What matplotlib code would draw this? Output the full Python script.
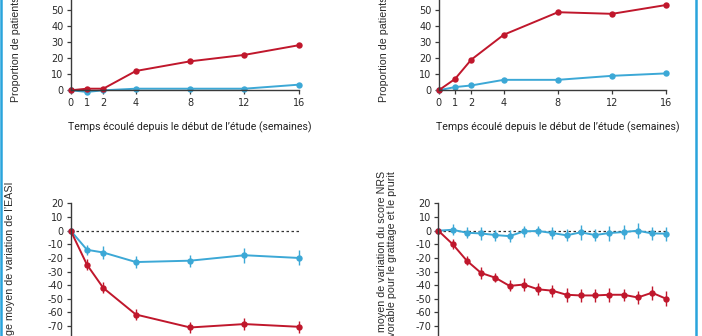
import numpy as np
import matplotlib
matplotlib.use("Agg")
import matplotlib.pyplot as plt
from matplotlib.lines import Line2D

# ---- data -------------------------------------------------------------
weeks_resp = [0, 1, 2, 4, 8, 12, 16]

# proportion of responders (%), left panel
resp_a_drug = [0, 1, 1, 12, 18, 22, 28]
resp_a_placebo = [0, -1, 0, 1, 1, 1, 3.5]

# proportion of responders (%), right panel
resp_b_drug = [0, 7, 19, 34.5, 48.5, 47.5, 53]
resp_b_placebo = [0, 2, 3, 6.5, 6.5, 9, 10.5]

# mean % change in EASI
easi_weeks = [0, 1, 2, 4, 8, 12, 16]
easi_drug = [0, -25, -42, -61.5, -71, -68.5, -70.5]
easi_drug_err = [0, 4, 4, 4, 4, 4.5, 4.5]
easi_placebo = [0, -14, -16, -23, -22, -18, -20]
easi_placebo_err = [0, 3.5, 4.5, 4.5, 4.5, 5.5, 5.5]

# mean % change in NRS itch score (weekly)
nrs_weeks = list(range(17))
nrs_drug = [0, -9.8, -22, -31, -34.5, -40.5, -39.5, -43, -44, -47, -47.5,
            -47.5, -47, -47, -49, -45.5, -50]
nrs_drug_err = [0, 3.5, 3.5, 4.5, 3.5, 4, 4.5, 4.5, 4.5, 5, 5, 5, 5, 4.5,
                5, 5, 5.5]
nrs_placebo = [0, 0.7, -1.5, -2, -3.2, -4, -0.5, -0.2, -1.7, -3.4, -1.2,
               -3.2, -1.7, -1, 0, -2, -2.2]
nrs_placebo_err = [0, 4, 4, 4.5, 4, 4.5, 4, 4, 4.5, 4.5, 5.5, 4.5, 5.5, 5,
                   5.5, 5, 5]

resp_ticks = [0, 1, 2, 4, 8, 12, 16]
resp_yticks = list(range(0, 61, 10))
change_yticks = list(range(20, -101, -10))

x_title = "Temps écoulé depuis le début de l\u2019étude (semaines)"
ylab_a = "Proportion de patients ayant obtenu un IGA 0 ou 1 (%)"
ylab_b = "Proportion de patients ayant obtenu un EASI-75 (%)"
ylab_c = "Pourcentage moyen de variation de l\u2019EASI"
ylab_d = ("Pourcentage moyen de variation du score NRS\n"
          "le plus défavorable pour le grattage et le prurit")

# ---- style ------------------------------------------------------------
RED = "#c0172c"
BLUE = "#3ca8d6"
AXC = "#3a3a3a"
plt.rcParams["axes.unicode_minus"] = False

W, H = 702, 336
fig = plt.figure(figsize=(W / 100, H / 100), dpi=100)
fig.patch.set_facecolor("white")


def fx(px):
    return px / W


def fy(py):
    return 1 - py / H


def add_axes(left, right, top, bottom):
    return fig.add_axes([fx(left), fy(bottom), fx(right) - fx(left),
                         fy(top) - fy(bottom)])


def compress(w):
    w = np.asarray(w, dtype=float)
    return np.where(w <= 4, 1.2 * w, w + 0.8)


def expand(p):
    p = np.asarray(p, dtype=float)
    return np.where(p <= 4.8, p / 1.2, p - 0.8)


def style(ax):
    for s in ("top", "right"):
        ax.spines[s].set_visible(False)
    for s in ("left", "bottom"):
        ax.spines[s].set_color(AXC)
        ax.spines[s].set_linewidth(1.0)
    ax.tick_params(axis="both", colors=AXC, length=3.2, width=0.9,
                   pad=2.0, labelsize=7.0, labelcolor="#2a2a2a")
    for lab in ax.get_xticklabels() + ax.get_yticklabels():
        lab.set_family("DejaVu Sans")


xlab_font = dict(family="Roboto", size=7.6, color="#222222")
ylab_font = dict(family="Liberation Sans", size=7.7, color="#2a2a2a")

line_kw = dict(lw=1.4, marker="o", ms=4.6, mew=0, clip_on=False)
err_kw = dict(lw=1.4, marker="o", ms=4.6, mew=0, capsize=2.0,
              elinewidth=1.0, capthick=1.0, clip_on=False)

# ---- top panels: proportion of responders ------------------------------
tops = [
    (70.7, 298.8, resp_a_drug, resp_a_placebo, ylab_a, 21, 65, 315),
    (438.7, 666.3, resp_b_drug, resp_b_placebo, ylab_b, 389, 433, 683),
]
for left, right, drug, plac, ylab, ylx, xl0, xl1 in tops:
    ax = add_axes(left, right, 90.3 - 96.6, 90.3)
    ax.set_xscale("function", functions=(compress, expand))
    ax.plot(weeks_resp, plac, color=BLUE, **line_kw)
    ax.plot(weeks_resp, drug, color=RED, **line_kw)
    ax.set_xlim(0, 16)
    ax.set_ylim(0, 60)
    ax.set_xticks(resp_ticks)
    ax.set_xticklabels([str(t) for t in resp_ticks])
    ax.set_yticks(resp_yticks)
    ax.minorticks_off()
    style(ax)
    ax.set_xlabel(x_title, **xlab_font)
    ax.xaxis.set_label_coords(fx((xl0 + xl1) / 2), fy(121),
                              transform=fig.transFigure)
    ax.set_ylabel(ylab, loc="bottom", **ylab_font)
    ax.yaxis.set_label_coords(fx(ylx), fy(102), transform=fig.transFigure)

# ---- bottom left: EASI change ------------------------------------------
y0, per = 230.7, 1.363
axc = add_axes(70.7, 298.8, y0 - 20 * per, y0 + 100 * per)
axc.set_xscale("function", functions=(compress, expand))
axc.axhline(0, color="#333333", lw=0.9, ls=(0, (2, 2)), zorder=1)
axc.errorbar(easi_weeks, easi_placebo, yerr=easi_placebo_err, color=BLUE,
             **err_kw)
axc.errorbar(easi_weeks, easi_drug, yerr=easi_drug_err, color=RED, **err_kw)
axc.set_xlim(0, 16)
axc.set_ylim(-100, 20)
axc.set_xticks(resp_ticks)
axc.set_xticklabels([str(t) for t in resp_ticks])
axc.set_yticks(change_yticks)
axc.minorticks_off()
style(axc)
axc.set_ylabel(ylab_c, loc="top", **ylab_font)
axc.yaxis.set_label_coords(fx(15), fy(181), transform=fig.transFigure)

# ---- bottom right: NRS change ------------------------------------------
axd = add_axes(438.3, 666.3, y0 - 20 * per, y0 + 100 * per)
axd.axhline(0, color="#333333", lw=0.9, ls=(0, (2, 2)), zorder=1)
axd.errorbar(nrs_weeks, nrs_placebo, yerr=nrs_placebo_err, color=BLUE,
             **err_kw)
axd.errorbar(nrs_weeks, nrs_drug, yerr=nrs_drug_err, color=RED, **err_kw)
axd.set_xlim(0, 16)
axd.set_ylim(-100, 20)
axd.set_xticks(nrs_weeks)
axd.set_yticks(change_yticks)
style(axd)
axd.set_ylabel(ylab_d, loc="top", linespacing=1.0, **ylab_font)
axd.yaxis.set_label_coords(fx(397), fy(171), transform=fig.transFigure)

# ---- frame rules at the left and right edges -----------------------------
for xp in (1.2, 696):
    fig.add_artist(Line2D([fx(xp), fx(xp)], [0, 1], color="#29a4dc",
                          lw=1.8, transform=fig.transFigure))

fig.savefig("out.png", dpi=100, facecolor="white")
